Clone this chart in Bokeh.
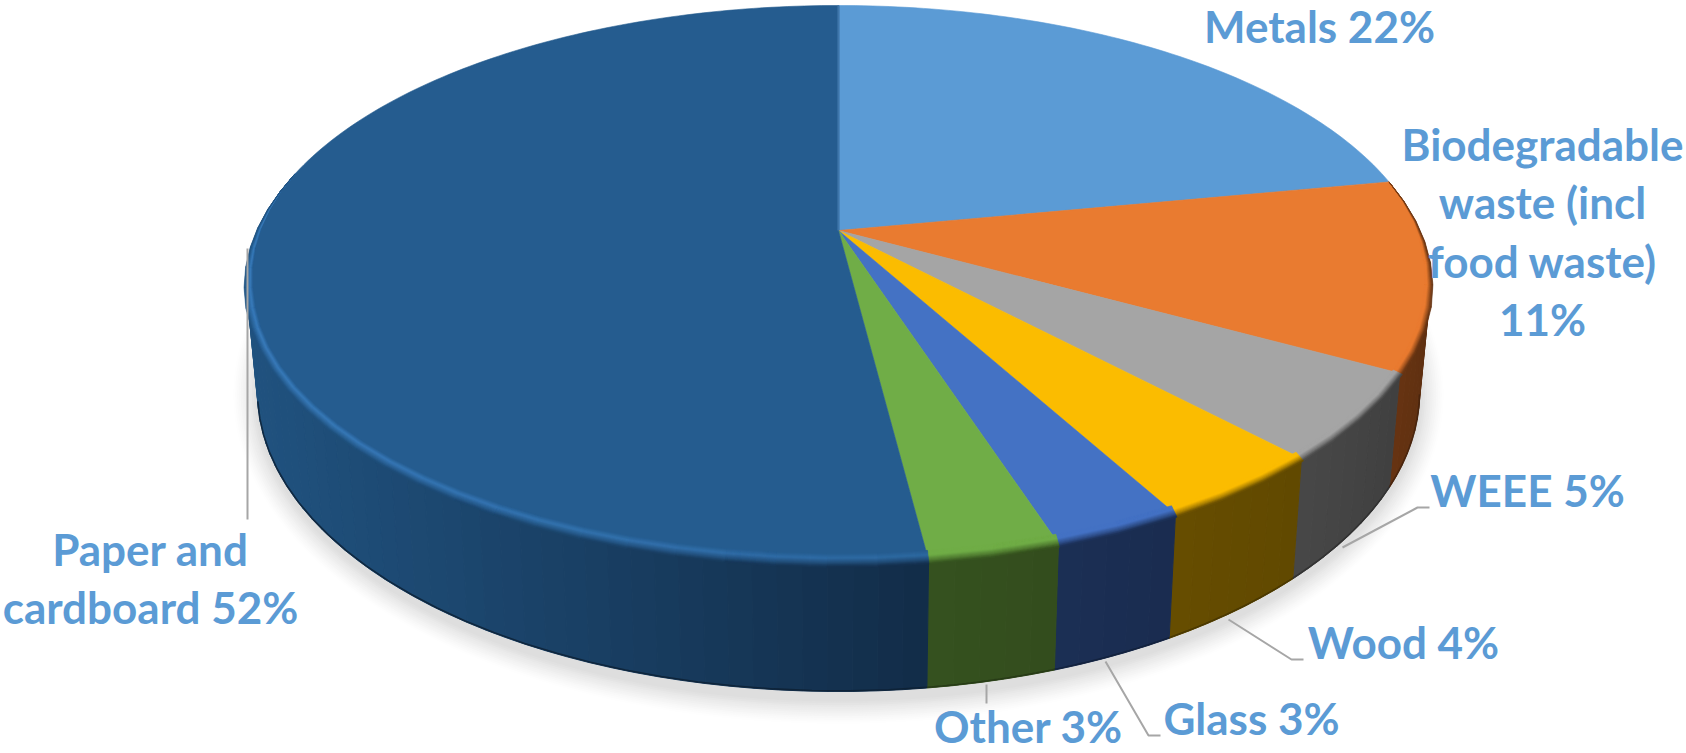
import math
from bokeh.plotting import figure
from bokeh.models import Range1d
from bokeh.core.properties import value
from bokeh.embed import file_html
from bokeh.resources import INLINE

# --- data ---
categories = ["Metals", "Biodegradable waste (incl food waste)", "WEEE", "Wood", "Glass", "Other", "Paper and cardboard"]
shares = [22, 11, 5, 4, 3, 3, 52]

# --- style ---
top_colors = ["#5b9bd5", "#e97b30", "#a5a5a5", "#fbbc00", "#4472c4", "#70ad47", "#255c8f"]
rim_colors = ["#5b9bd5", "#e97b30", "#a5a5a5", "#fbbc00", "#4472c4", "#70ad47", "#3a7dbd"]
side_from = ["#2e4d6a", "#6a3512", "#484848", "#664d00", "#1b2f55", "#35511f", "#20527f"]
side_to = ["#2e4d6a", "#5f3011", "#404040", "#614900", "#1a2c50", "#334d1d", "#122c48"]
text_color = "#5b9bd5"
leader_color = "#a6a6a6"

# --- labels (screen px) ---
label_text = ["Metals 22%", "Biodegradable", "waste (incl", "food waste)", "11%", "WEEE 5%", "Wood 4%",
              "Glass 3%", "Other 3%", "Paper and", "cardboard 52%"]
label_x = [1319, 1542, 1542, 1542, 1542, 1527, 1403, 1251, 1028, 150, 150]
label_y = [42, 160, 218, 277, 335, 506, 658, 734, 742, 565, 623]
BASELINE_SHIFT = -17
leaders = [
    ([1342, 1417, 1429], [547, 507, 507]),
    ([1228, 1291, 1303], [619, 659, 659]),
    ([1105, 1148, 1160], [661, 735, 735]),
    ([986, 986], [684, 703]),
    ([247, 247], [248, 519]),
]

# --- projection of the pie ---
XC, YC, RX, RY, B = 838.0, 284.0, 592.0, 279.0, 54.0 / 279.0
YC2, RX2, RY2 = 392.0, 581.0, 299.0


def proj(frac):
    th = 2 * math.pi * frac
    X, Y = math.sin(th), math.cos(th)
    d = 1 + B * Y
    return X * math.sqrt(1 - B * B) / d, (Y + B) / d


def hex2rgb(h):
    return tuple(int(h[i:i + 2], 16) for i in (1, 3, 5))


def mix(a, b, t):
    t = max(0.0, min(1.0, t))
    ra, rb = hex2rgb(a), hex2rgb(b)
    return "#%02x%02x%02x" % tuple(round(ra[i] + (rb[i] - ra[i]) * t) for i in range(3))


def top(px, py):
    return XC + RX * px, YC - RY * py


def bot(px, py):
    return XC + RX2 * px, YC2 - RY2 * py


def band(px, py, t):
    w = max(0.0, min(1.0, (0.35 - py) / 0.4))
    return XC + (RX - 0.7 * t * w) * px, YC - (RY - t * w) * py


p = figure(width=1686, height=753, output_backend="svg", toolbar_location=None,
           x_range=Range1d(0, 1686), y_range=Range1d(753, 0), min_border=0)
p.axis.visible = False
p.grid.visible = False
p.outline_line_color = None
p.background_fill_color = "white"
p.border_fill_color = "white"

# soft shadow
sx, sy, sc = [], [], []
for i in range(14):
    g = 1 - i / 13
    n = 180
    rx = RX2 + 2 + 24 * g
    ry = RY2 + 8 + 24 * g
    sx.append([XC + rx * math.cos(2 * math.pi * k / n) for k in range(n)])
    sy.append([YC2 + 2 + ry * math.sin(2 * math.pi * k / n) for k in range(n)])
    sc.append(mix("#ffffff", "#dedede", (i / 13) ** 1.3))
p.patches(sx, sy, fill_color=sc, line_color=None)

# slice fractions
edges = [0.0]
for s in shares:
    edges.append(edges[-1] + s / sum(shares))

# side wall (only the part that faces the viewer)
strips = []
for i in range(len(shares)):
    a, b = edges[i], edges[i + 1]
    n = max(2, int((b - a) * 360 / 2))
    fr = [a + (b - a) * k / n for k in range(n + 1)]
    x_all = [top(*proj(f))[0] for f in fr]
    lo, hi = min(x_all), max(x_all)
    for k in range(n):
        p0, p1 = proj(fr[k]), proj(fr[k + 1])
        if (p0[1] + p1[1]) / 2 > 0.2:
            continue
        t0, t1, b0, b1 = top(*p0), top(*p1), bot(*p0), bot(*p1)
        tx = ((t0[0] + t1[0]) / 2 - lo) / max(1.0, hi - lo)
        c = mix(side_from[i], side_to[i], tx)
        strips.append(((p0[1] + p1[1]) / 2,
                       [t0[0], t1[0], b1[0], b0[0]], [t0[1], t1[1], b1[1], b0[1]], c))
strips.sort(key=lambda s: -s[0])
cols = [s[3] for s in strips]
p.patches([s[1] for s in strips], [s[2] for s in strips], fill_color=cols, line_color=cols, line_width=1.0)

# darker lower edge of the wall
for i in range(len(shares)):
    a, b = edges[i], edges[i + 1]
    fr = [a + (b - a) * k / 60 for k in range(61)]
    pts = [bot(*proj(f)) for f in fr if proj(f)[1] < 0.0]
    if pts:
        p.line([q[0] for q in pts], [q[1] - 0.7 for q in pts], line_color=mix(side_to[i], "#000000", 0.3),
               line_width=1.6, line_alpha=0.8)

# top face
for i in range(len(shares)):
    a, b = edges[i], edges[i + 1]
    n = max(4, int((b - a) * 360))
    pts = [top(*proj(a + (b - a) * k / n)) for k in range(n + 1)]
    xs = [XC] + [q[0] for q in pts]
    ys = [YC - RY * B] + [q[1] for q in pts]
    p.patch(xs, ys, fill_color=top_colors[i], line_color=top_colors[i], line_width=0.6)

# bevel: thin bands along the front edge, blending top colour into the wall
levels = [10, 9, 8, 7, 6, 5, 4, 3, 2, 1, 0, -1, -2, -3, -4]
for i in range(len(shares)):
    a, b = edges[i], edges[i + 1]
    n = max(2, int((b - a) * 360 / 4))
    fr = [a + (b - a) * k / n for k in range(n + 1)]
    x_all = [top(*proj(f))[0] for f in fr]
    lo, hi = min(x_all), max(x_all)
    bx, by, bc = [], [], []
    for j in range(len(levels) - 1):
        t0, t1 = levels[j], levels[j + 1]
        tm = (t0 + t1) / 2
        for k in range(n):
            p0, p1 = proj(fr[k]), proj(fr[k + 1])
            if p0[1] > 0.35 and p1[1] > 0.35:
                continue
            tx = ((top(*p0)[0] + top(*p1)[0]) / 2 - lo) / max(1.0, hi - lo)
            side = mix(side_from[i], side_to[i], tx)
            light = mix(rim_colors[i], top_colors[i], tx * 0.6)
            if tm >= 5:
                c = mix(top_colors[i], light, (10 - tm) / 5)
            else:
                c = mix(light, side, (5 - tm) / 9)
            A, B_, C, D = band(*p0, t0), band(*p1, t0), band(*p1, t1), band(*p0, t1)
            bx.append([A[0], B_[0], C[0], D[0]])
            by.append([A[1], B_[1], C[1], D[1]])
            bc.append(c)
    if bx:
        p.patches(bx, by, fill_color=bc, line_color=bc, line_width=0.5)

# lighter seam at the first slice edge
sp = top(*proj(0.0))
p.line([XC, sp[0]], [YC - RY * B, sp[1]], line_color="#3f76aa", line_width=2.2)

# leader lines
for lx, ly in leaders:
    p.line(lx, ly, line_color=leader_color, line_width=2)

# labels
p.text(label_x, [v + BASELINE_SHIFT for v in label_y], text=label_text, text_color=text_color, text_align="center",
       text_baseline="alphabetic", text_font=value("Lato"), text_font_style="bold",
       text_font_size="44px")

open("out.html", "w").write(file_html(p, INLINE))
